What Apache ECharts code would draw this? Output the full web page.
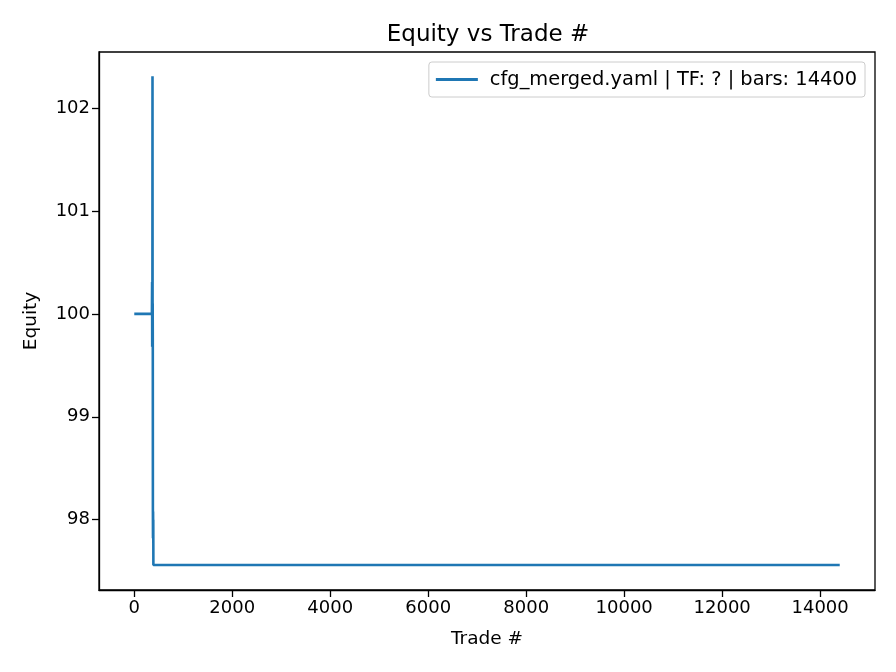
<!DOCTYPE html>
<html>
<head>
<meta charset="utf-8">
<script src="https://cdn.jsdelivr.net/npm/echarts@6/dist/echarts.min.js"></script>
<style>html,body{margin:0;padding:0;background:#fff}#c{width:896px;height:672px}</style>
</head>
<body>
<div id="c"></div>
<script>
const titleText = 'Equity vs Trade #';
const seriesName = 'cfg_merged.yaml | TF: ? | bars: 14400';
const xLabelText = 'Trade #';
const yLabelText = 'Equity';
const tradeIdx = [0, 360, 364, 366, 368, 370, 372, 374, 376, 378, 380, 382, 384, 386, 388, 390, 14400];
const equity   = [100, 100, 100.31, 99.68, 100.25, 99.72, 102.31, 99.9, 100.1, 99.75, 98.1, 97.82, 98.08, 97.85, 98.0, 97.56, 97.56];
const xTicks = [0, 2000, 4000, 6000, 8000, 10000, 12000, 14000];
const yTicks = [98, 99, 100, 101, 102];

const font = 'DejaVu Sans';
const chart = echarts.init(document.getElementById('c'), null, {renderer: 'canvas'});
const pts = tradeIdx.map((x, i) => [x, equity[i]]);
chart.setOption({
  animation: false,
  backgroundColor: '#fff',
  title: {
    text: titleText, left: 483, top: 19, textAlign: 'center',
    textStyle: {fontFamily: font, fontSize: 23, fontWeight: 'normal', color: '#000'}
  },
  legend: {
    show: true, right: 31, top: 62,
    itemWidth: 42, itemHeight: 3, itemGap: 10,
    padding: [8, 8, 8, 7],
    borderColor: '#cccccc', borderWidth: 1, borderRadius: 3,
    backgroundColor: 'rgba(255,255,255,0.8)',
    icon: 'rect',
    textStyle: {fontFamily: font, fontSize: 19.4, color: '#000', padding: [0, 0, 0, 7]},
    data: [{name: seriesName, icon: 'rect'}]
  },
  grid: {left: 99, right: 21, top: 52, bottom: 82, show: true, borderColor: '#000', borderWidth: 1.3, containLabel: false},
  xAxis: {
    type: 'value', min: -720, max: 15120,
    name: xLabelText, nameLocation: 'middle', nameGap: 40,
    nameTextStyle: {fontFamily: font, fontSize: 18.5, color: '#000'},
    axisLine: {show: true, onZero: false, lineStyle: {color: '#000', width: 1.3}},
    axisTick: {show: true, length: 7, lineStyle: {color: '#000', width: 1.3}, customValues: xTicks},
    axisLabel: {fontFamily: font, fontSize: 18, color: '#000', margin: 9, customValues: xTicks, formatter: v => String(v)},
    splitLine: {show: false}
  },
  yAxis: {
    type: 'value', min: 97.317, max: 102.545,
    name: yLabelText, nameLocation: 'middle', nameGap: 58, nameRotate: 90,
    nameTextStyle: {fontFamily: font, fontSize: 18.5, color: '#000'},
    axisLine: {show: true, onZero: false, lineStyle: {color: '#000', width: 1.3}},
    axisTick: {show: true, length: 7, lineStyle: {color: '#000', width: 1.3}, customValues: yTicks},
    axisLabel: {fontFamily: font, fontSize: 18, color: '#000', margin: 9, customValues: yTicks, formatter: v => String(v)},
    splitLine: {show: false}
  },
  series: [{
    name: seriesName, type: 'line', data: pts,
    showSymbol: false, symbol: 'none',
    lineStyle: {color: '#1f77b4', width: 2.6},
    itemStyle: {color: '#1f77b4'}
  }]
});
</script>
</body>
</html>
